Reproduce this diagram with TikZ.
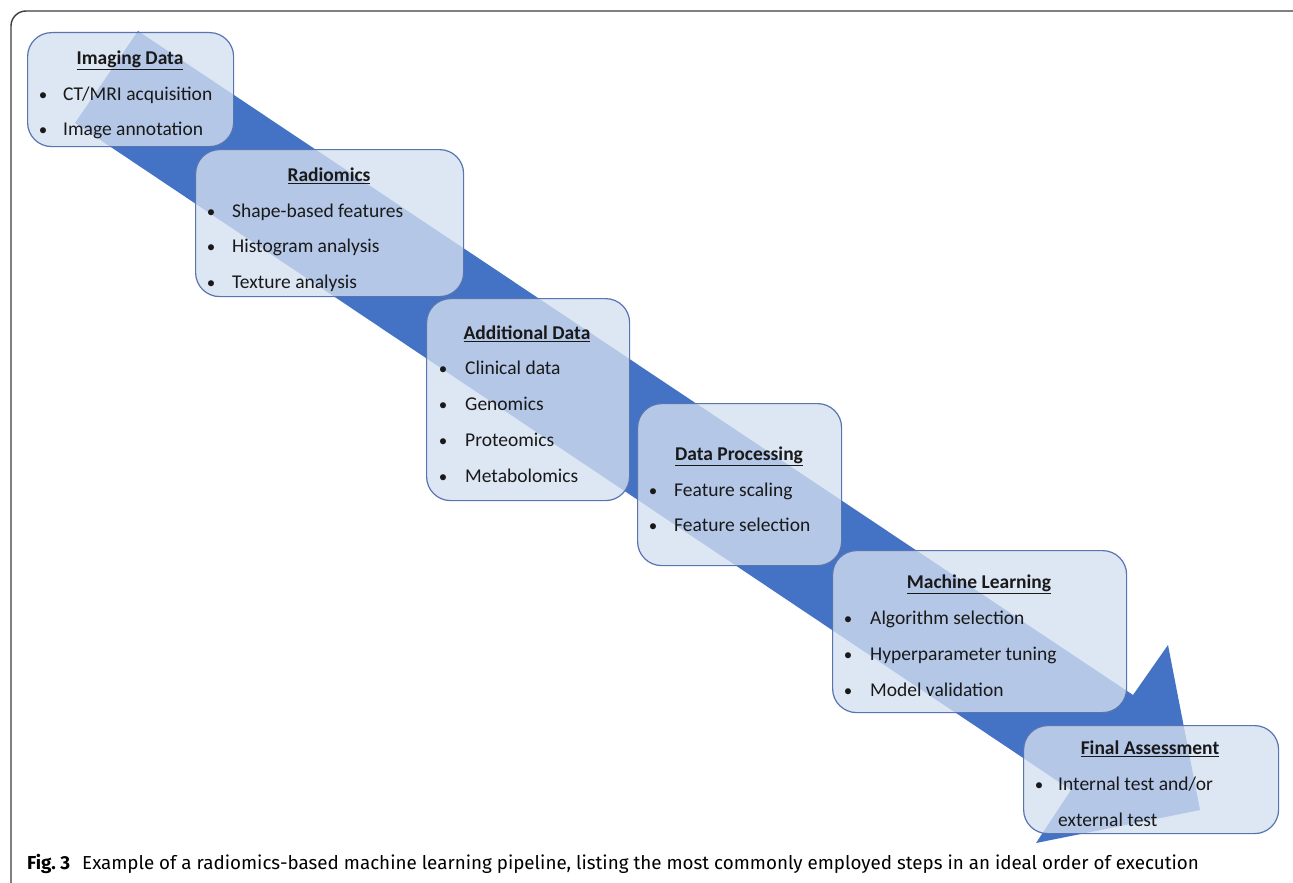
\documentclass[tikz,border=0pt]{standalone}
\usepackage{fontspec}
\setmainfont{Carlito}
\newfontfamily\capfont{Fira Sans}
\definecolor{arrowblue}{RGB}{68,114,196}
\definecolor{boxfill}{RGB}{212,223,240}
\definecolor{boxline}{RGB}{88,117,176}
\definecolor{txt}{RGB}{25,25,25}
\definecolor{framec}{RGB}{60,60,60}
\newcommand{\bitem}[5]{%
  \node[bullettext, anchor=base] (#1b) at (#2,#4+6.5) {•};
  \node[itemtext, anchor=base west] (#1) at (#3,#4+6.5) {#5};}
\newcommand{\stitle}[4]{%
  \node[titletext, anchor=base] (#1) at (#2,#3+6.5) {\underline{#4}};}
\begin{document}
\begin{tikzpicture}[x=1pt,y=-1pt,
  stagebox/.style={draw=boxline, line width=1.2pt, fill=boxfill, fill opacity=0.78,
    rounded corners=24pt, anchor=north west, inner sep=0pt},
  itemtext/.style={text=txt, font=\fontsize{19.5}{22}\selectfont, inner sep=0pt},
  bullettext/.style={text=txt, font=\fontsize{17}{20}\selectfont, inner sep=0pt},
  titletext/.style={text=txt, font=\fontsize{19.5}{22}\selectfont\bfseries, inner sep=0pt},
  frame/.style={draw=framec, line width=1.4pt, rounded corners=15pt}]
\useasboundingbox (0,0) rectangle (1293,883);
\clip (0,0) rectangle (1293,883);
\fill[white] (0,0) rectangle (1293,883);
\draw[frame] (11,11) rectangle (1308,940);
% arrow
\coordinate (a1) at (138,31);
\coordinate (a2) at (1133,695);
\coordinate (a3) at (1168,645);
\coordinate (a4) at (1200,810);
\coordinate (a5) at (1036,843);
\coordinate (a6) at (1071,790);
\coordinate (a7) at (75,123);
\fill[arrowblue] (a1) -- (a2) -- (a3) -- (a4) -- (a5) -- (a6) -- (a7) -- cycle;
% boxes
\node[stagebox, minimum width=206pt, minimum height=114pt] (box1) at (27,32) {};
\node[stagebox, minimum width=268pt, minimum height=147pt] (box2) at (195,149) {};
\node[stagebox, minimum width=203pt, minimum height=202pt] (box3) at (426,298) {};
\node[stagebox, minimum width=204pt, minimum height=162pt] (box4) at (637,403) {};
\node[stagebox, minimum width=294pt, minimum height=162pt] (box5) at (832,550) {};
\node[stagebox, minimum width=255pt, minimum height=108pt] (box6) at (1023,725) {};
% texts
\stitle{t1}{130}{58}{Imaging Data}
\bitem{i11}{43}{63}{94}{CT/MRI acquisition}
\bitem{i12}{43}{63}{129}{Image annotation}
\stitle{t2}{329}{175}{Radiomics}
\bitem{i21}{211}{232}{211}{Shape-based features}
\bitem{i22}{211}{232}{246}{Histogram analysis}
\bitem{i23}{211}{232}{282}{Texture analysis}
\stitle{t3}{527}{333}{Additional Data}
\bitem{i31}{443}{465}{368}{Clinical data}
\bitem{i32}{443}{465}{404}{Genomics}
\bitem{i33}{443}{465}{440}{Proteomics}
\bitem{i34}{443}{465}{476}{Metabolomics}
\stitle{t4}{739}{454}{Data Processing}
\bitem{i41}{653}{674}{490}{Feature scaling}
\bitem{i42}{653}{674}{525}{Feature selection}
\stitle{t5}{979}{582}{Machine Learning}
\bitem{i51}{848}{870}{618}{Algorithm selection}
\bitem{i52}{848}{870}{654}{Hyperparameter tuning}
\bitem{i53}{848}{870}{690}{Model validation}
\stitle{t6}{1150}{748}{Final Assessment}
\bitem{i61}{1039}{1058}{784}{Internal test and/or}
\node[itemtext, anchor=base west] (i62) at (1058,826.5) {external test};
% caption
\node[anchor=base west, inner sep=0pt, text=black, font=\capfont\fontsize{18.8}{22}\selectfont] (cap) at (27,869)
  {\textbf{Fig.\ 3}\hspace{12pt}Example of a radiomics-based machine learning pipeline, listing the most commonly employed steps in an ideal order of execution};
\end{tikzpicture}
\end{document}
